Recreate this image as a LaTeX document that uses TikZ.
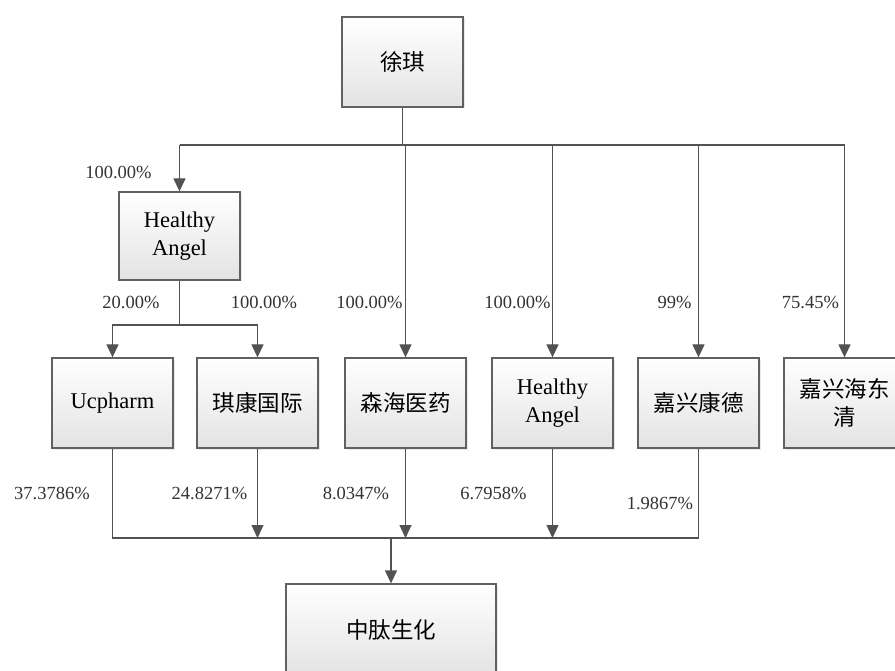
\documentclass[tikz,border=0pt]{standalone}
\usepackage{fontspec}
\setmainfont{Liberation Serif}
\newfontfamily\cjk{Noto Sans CJK SC}
\usetikzlibrary{arrows.meta,shadows}

\tikzset{
  entity/.style={draw=black!62, line width=1.3pt, top color=white, bottom color=black!11,
    minimum width=121pt, minimum height=90pt, inner sep=0pt, align=center,
    font=\fontsize{22.5}{28}\selectfont,
    drop shadow={opacity=0.18, shadow xshift=1.5pt, shadow yshift=-1.5pt}},
  link/.style={draw=black!68, line width=1.3pt},
  arr/.style={link, -{Triangle[length=13pt,width=12pt]}},
  pct/.style={inner sep=0pt, font=\fontsize{18.5}{20}\selectfont, text=black!80}
}

\begin{document}
\begin{tikzpicture}[x=1pt,y=-1pt]
\useasboundingbox[fill=white] (0,0) rectangle (895,671);

\node[entity] (xuqi) at (402.5,62) {\cjk 徐琪};
\node[entity, minimum height=88pt] (ha1) at (179.5,236) {Healthy\\Angel};
\node[entity] (ucp) at (112.5,403) {Ucpharm};
\node[entity] (qk) at (257.5,403) {\cjk 琪康国际};
\node[entity] (sh) at (405.5,403) {\cjk 森海医药};
\node[entity] (ha2) at (552.5,403) {Healthy\\Angel};
\node[entity] (jxkd) at (698.5,403) {\cjk 嘉兴康德};
\node[entity] (jxhdq) at (844.5,403) {\cjk 嘉兴海东\\\cjk 清};
\node[entity, minimum width=210pt, minimum height=92pt] (zt) at (391,630) {\cjk 中肽生化};

\coordinate (top) at (402.5,145);
\coordinate (split) at (179.5,325);
\coordinate (bottom) at (391,538);

\draw[link] (xuqi.south) -- (top);
\draw[link] (ha1.north |- top) -- (jxhdq.north |- top);
\draw[arr] (ha1.north |- top) -- (ha1.north);
\draw[arr] (sh.north |- top) -- (sh.north);
\draw[arr] (ha2.north |- top) -- (ha2.north);
\draw[arr] (jxkd.north |- top) -- (jxkd.north);
\draw[arr] (jxhdq.north |- top) -- (jxhdq.north);

\draw[link] (ha1.south) -- (split);
\draw[arr] (split) -| (ucp.north);
\draw[arr] (split) -| (qk.north);

\draw[link] (ucp.south) |- (bottom) -| (jxkd.south);
\draw[arr] (qk.south) -- (qk.south |- bottom);
\draw[arr] (sh.south) -- (sh.south |- bottom);
\draw[arr] (ha2.south) -- (ha2.south |- bottom);
\draw[arr] (bottom) -- (zt.north);

\node[pct] (p1) at (118.5,172) {100.00\%};
\node[pct] (p2) at (131,302) {20.00\%};
\node[pct] (p3) at (264,302) {100.00\%};
\node[pct] (p4) at (369.5,302) {100.00\%};
\node[pct] (p5) at (517.5,302) {100.00\%};
\node[pct] (p6) at (674.5,302) {99\%};
\node[pct] (p7) at (810.5,302) {75.45\%};
\node[pct] (q1) at (52,493) {37.3786\%};
\node[pct] (q2) at (209.5,493) {24.8271\%};
\node[pct] (q3) at (356,493) {8.0347\%};
\node[pct] (q4) at (493.5,493) {6.7958\%};
\node[pct] (q5) at (660,503) {1.9867\%};
\end{tikzpicture}
\end{document}
